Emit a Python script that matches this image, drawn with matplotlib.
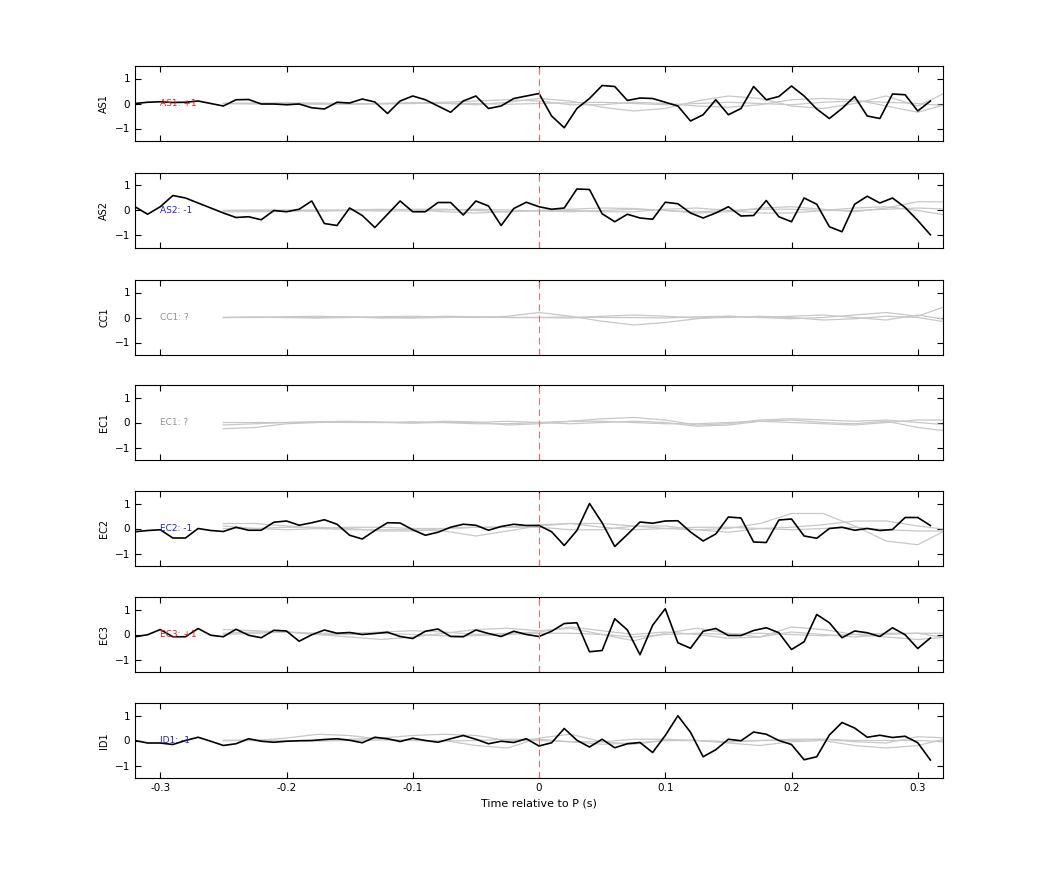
import numpy as np
import matplotlib
matplotlib.use("Agg")
import matplotlib.pyplot as plt

# station names and polarity labels
stations = ['AS1', 'AS2', 'CC1', 'EC1', 'EC2', 'EC3', 'ID1']
labels = ['AS1: +1', 'AS2: -1', 'CC1: ?', 'EC1: ?', 'EC2: -1', 'EC3: +1', 'ID1: -1']
label_colors = ['#e02020', '#2020e0', '#909090', '#909090', '#2020e0', '#e02020', '#2020e0']

# black traces, 0.01 s sampling from -0.32 to 0.31
t_black = np.round(np.arange(-0.32, 0.315, 0.01), 2)
as1 = [0.0, 0.05, 0.07, 0.04, 0.05, 0.1, 0.0, -0.1, 0.15, 0.16, -0.02, -0.02, -0.05, -0.02, -0.17, -0.22,
       0.05, 0.02, 0.18, 0.06, -0.4, 0.1, 0.3, 0.15, -0.1, -0.35, 0.1, 0.3, -0.2, -0.1, 0.2, 0.3, 0.4,
       -0.5, -0.97, -0.2, 0.2, 0.72, 0.68, 0.12, 0.22, 0.2, 0.05, -0.1, -0.7, -0.45, 0.15, -0.45, -0.2,
       0.68, 0.15, 0.28, 0.7, 0.3, -0.22, -0.6, -0.2, 0.28, -0.5, -0.6, 0.38, 0.35, -0.3, 0.1]
as2 = [0.15, -0.15, 0.15, 0.6, 0.5, 0.3, 0.1, -0.1, -0.28, -0.25, -0.37, 0.0, -0.05, 0.05, 0.38, -0.52,
       -0.6, 0.1, -0.2, -0.68, -0.15, 0.38, -0.05, -0.05, 0.32, 0.32, -0.18, 0.38, 0.18, -0.6, 0.08, 0.33, 0.15,
       0.05, 0.1, 0.86, 0.84, -0.13, -0.45, -0.15, -0.3, -0.35, 0.33, 0.27, -0.1, -0.3, -0.1, 0.15, -0.22,
       -0.2, 0.4, -0.25, -0.45, 0.5, 0.25, -0.65, -0.85, 0.25, 0.57, 0.3, 0.5, 0.12, -0.4, -0.97]
ec2 = [-0.13, -0.08, -0.05, -0.38, -0.38, 0.0, -0.08, -0.12, 0.05, -0.07, -0.07, 0.25, 0.3, 0.13, 0.23, 0.35,
       0.17, -0.27, -0.42, -0.08, 0.23, 0.22, -0.05, -0.27, -0.15, 0.05, 0.17, 0.13, -0.07, 0.08, 0.17, 0.12, 0.12,
       -0.13, -0.68, -0.08, 1.0, 0.23, -0.72, -0.24, 0.26, 0.21, 0.3, 0.31, -0.14, -0.5, -0.22, 0.46, 0.42,
       -0.54, -0.56, 0.34, 0.38, -0.3, -0.39, 0.0, 0.05, -0.07, 0.0, -0.08, -0.04, 0.44, 0.44, 0.12]
ec3 = [-0.09, -0.01, 0.2, -0.09, -0.09, 0.24, -0.03, -0.09, 0.21, -0.03, -0.13, 0.17, 0.14, -0.27, -0.01, 0.18,
       0.05, 0.08, 0.0, 0.04, 0.09, -0.08, -0.16, 0.13, 0.22, -0.08, -0.09, 0.18, 0.04, -0.08, 0.13, 0.0, -0.08,
       0.13, 0.44, 0.47, -0.69, -0.64, 0.63, 0.18, -0.81, 0.37, 1.03, -0.33, -0.55, 0.13, 0.24, -0.04, -0.04,
       0.16, 0.27, 0.07, -0.6, -0.29, 0.8, 0.47, -0.13, 0.14, 0.07, -0.08, 0.27, -0.01, -0.56, -0.14]
id1 = [0.0, -0.1, -0.1, -0.16, 0.0, 0.13, -0.03, -0.2, -0.13, 0.07, -0.03, -0.07, -0.03, -0.01, 0.0, 0.04,
       0.07, 0.01, -0.09, 0.13, 0.07, -0.04, 0.09, 0.0, -0.07, 0.07, 0.2, 0.05, -0.13, -0.03, -0.08, 0.07, -0.22,
       -0.09, 0.48, 0.01, -0.26, 0.05, -0.29, -0.13, -0.08, -0.48, 0.2, 0.99, 0.33, -0.65, -0.37, 0.05, -0.01,
       0.34, 0.25, 0.0, -0.16, -0.77, -0.65, 0.22, 0.72, 0.5, 0.13, 0.21, 0.12, 0.17, -0.09, -0.78]
black = [as1, as2, None, None, ec2, ec3, id1]

# grey synthetic traces, 0.025 s sampling from -0.25 to 0.325
t_grey = np.round(np.arange(-0.25, 0.33, 0.025), 3)
grey = {
    'AS1': [[0.0, 0.0, -0.02, -0.03, -0.02, 0.0, 0.02, 0.0, -0.05, 0.05, 0.2, 0.1, -0.15, -0.3, -0.2, 0.1, 0.3, 0.2, -0.1, -0.2, 0.0, 0.3, -0.1, 0.5],
            [0.0, 0.02, 0.03, 0.0, -0.03, 0.0, 0.03, 0.05, 0.1, 0.15, 0.1, -0.05, -0.05, 0.05, 0.0, -0.1, -0.15, -0.05, 0.15, 0.2, 0.15, -0.1, -0.35, 0.0],
            [0.0, -0.02, 0.0, 0.02, 0.0, -0.02, 0.0, 0.02, 0.0, -0.03, 0.0, 0.03, 0.05, 0.0, -0.05, 0.0, 0.05, 0.0, -0.05, 0.05, 0.1, 0.05, 0.0, -0.1]],
    'AS2': [[-0.05, -0.05, -0.03, 0.0, 0.02, 0.05, 0.03, -0.05, -0.1, -0.05, 0.0, 0.05, 0.1, 0.08, 0.0, -0.1, -0.05, 0.1, 0.15, 0.05, -0.05, 0.1, 0.35, 0.35],
            [0.0, 0.02, 0.0, -0.03, 0.0, 0.02, 0.05, 0.05, 0.0, -0.05, 0.0, 0.0, -0.05, -0.05, 0.05, 0.1, 0.0, -0.1, -0.1, 0.0, 0.1, 0.15, 0.0, -0.2],
            [0.0, 0.0, 0.02, 0.02, 0.0, -0.02, -0.02, 0.02, 0.05, 0.02, -0.02, -0.05, 0.0, 0.05, 0.0, -0.05, 0.0, 0.05, 0.05, 0.0, 0.0, 0.05, 0.1, 0.05]],
    'CC1': [[0.0, 0.02, 0.0, -0.02, 0.0, 0.03, 0.05, 0.02, 0.0, 0.05, 0.2, 0.05, -0.15, -0.3, -0.2, -0.05, 0.05, 0.0, -0.05, 0.0, 0.1, 0.2, 0.05, 0.5],
            [0.0, 0.0, 0.03, 0.05, 0.02, -0.02, 0.0, 0.05, 0.03, 0.0, 0.0, -0.02, 0.05, 0.1, 0.05, -0.02, 0.0, 0.05, 0.0, -0.1, -0.05, 0.05, 0.0, -0.2],
            [0.0, 0.01, 0.0, 0.0, 0.02, 0.0, -0.02, 0.0, 0.02, 0.0, 0.0, 0.02, 0.0, 0.0, -0.02, 0.03, 0.05, 0.0, 0.05, 0.1, 0.0, -0.1, 0.1, -0.1]],
    'EC1': [[-0.25, -0.2, -0.05, 0.0, 0.02, 0.0, -0.02, 0.0, 0.0, 0.05, 0.0, -0.05, 0.0, 0.05, 0.0, -0.15, -0.1, 0.05, 0.1, 0.0, -0.05, 0.05, -0.2, -0.35],
            [0.0, 0.0, 0.0, 0.03, 0.05, 0.02, -0.02, 0.05, 0.02, -0.1, -0.05, 0.05, 0.15, 0.2, 0.1, -0.1, -0.05, 0.1, 0.15, 0.1, 0.05, 0.1, 0.0, -0.1],
            [-0.1, -0.05, 0.0, 0.02, 0.0, 0.0, 0.03, 0.0, -0.05, -0.05, 0.0, 0.05, 0.05, 0.0, -0.05, -0.05, 0.0, 0.05, 0.0, -0.05, -0.1, 0.0, 0.1, 0.1]],
    'EC2': [[0.2, 0.2, 0.1, 0.0, -0.05, -0.05, -0.05, -0.1, -0.3, -0.1, 0.1, 0.2, 0.2, 0.1, 0.0, -0.05, 0.0, 0.2, 0.6, 0.6, 0.1, -0.5, -0.65, 0.0],
            [0.0, 0.0, 0.05, 0.05, 0.0, -0.1, -0.1, 0.0, 0.05, 0.05, 0.05, -0.05, -0.05, 0.1, 0.1, -0.05, -0.15, 0.0, 0.05, 0.15, 0.3, 0.3, 0.1, -0.05],
            [0.1, 0.0, -0.05, 0.0, 0.05, 0.05, 0.0, 0.0, 0.05, 0.05, 0.15, 0.2, 0.05, -0.05, 0.0, 0.05, 0.05, 0.0, -0.05, 0.0, 0.05, -0.05, -0.1, -0.1]],
    'EC3': [[0.2, 0.15, 0.1, 0.0, -0.1, -0.2, -0.1, 0.05, 0.2, 0.25, 0.15, 0.25, 0.0, -0.25, 0.05, 0.25, 0.05, -0.1, 0.3, 0.2, 0.0, -0.1, -0.2, -0.1],
            [0.0, 0.05, 0.1, 0.05, 0.05, 0.1, 0.15, 0.1, 0.0, 0.05, 0.1, 0.3, 0.15, 0.0, 0.1, 0.0, -0.15, -0.1, 0.1, 0.0, -0.1, 0.0, 0.05, -0.15],
            [0.05, 0.1, 0.1, 0.0, 0.0, 0.05, 0.0, -0.05, -0.05, 0.0, 0.05, 0.05, 0.0, -0.1, 0.0, 0.05, 0.0, 0.05, 0.0, -0.05, 0.0, 0.05, 0.05, 0.05]],
    'ID1': [[0.0, 0.0, 0.1, 0.25, 0.2, 0.05, 0.0, 0.0, -0.2, -0.3, 0.1, 0.25, -0.05, -0.15, 0.0, 0.0, -0.1, -0.2, -0.05, 0.0, -0.2, -0.3, -0.2, 0.1],
            [0.0, 0.0, -0.02, 0.0, 0.05, 0.1, 0.2, 0.25, 0.2, 0.0, 0.0, -0.05, -0.05, 0.05, 0.05, 0.0, -0.05, 0.0, 0.0, 0.05, -0.05, -0.1, 0.15, 0.1],
            [0.0, 0.02, 0.0, -0.02, 0.0, 0.02, 0.0, -0.02, 0.0, 0.05, 0.05, -0.05, -0.15, -0.1, 0.0, 0.0, -0.05, 0.0, 0.05, 0.05, 0.0, 0.0, 0.0, -0.05]],
}

W, H = 1042, 875
fig = plt.figure(figsize=(W/100, H/100), dpi=100)
tops = [66, 173, 280, 385, 491, 597, 703]
left, right = 135, 943
for i, st in enumerate(stations):
    ax = fig.add_axes([left/W, 1 - (tops[i] + 75)/H, (right - left)/W, 75/H])
    for g in grey[st]:
        ax.plot(t_grey, g, color='#c8c8c8', lw=0.9)
    if black[i] is not None:
        ax.plot(t_black, black[i], color='k', lw=1.2)
    ax.axvline(0, color='#e87070', ls=(0, (6, 4)), lw=0.8)
    ax.text(-0.3, 0, labels[i], color=label_colors[i], fontsize=6.5, va='center')
    ax.set_xlim(-0.32, 0.32)
    ax.set_ylim(-1.5, 1.5)
    ax.set_yticks([-1, 0, 1])
    ax.set_xticks([-0.3, -0.2, -0.1, 0, 0.1, 0.2, 0.3])
    ax.tick_params(direction='in', top=True, right=True, labelsize=7.5, length=4)
    ax.set_ylabel(st, fontsize=7)
    if i < len(stations) - 1:
        ax.set_xticklabels([])
    else:
        ax.set_xticklabels(['-0.3', '-0.2', '-0.1', '0', '0.1', '0.2', '0.3'])
        ax.set_xlabel('Time relative to P (s)', fontsize=8)

fig.savefig('out.png', dpi=100)
